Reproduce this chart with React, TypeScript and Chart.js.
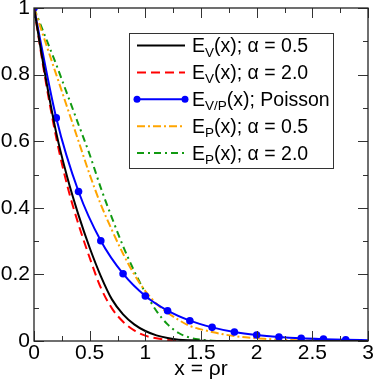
import React, { useEffect, useRef } from 'react';
import { Chart, registerables } from 'chart.js';

Chart.register(...registerables);

const FONT = '"Liberation Sans", Arial, Helvetica, sans-serif';

// Shared x grid for the continuous curves (x = ρr)
const xGrid = [
  0, 0.1, 0.2, 0.3, 0.4, 0.5, 0.6, 0.7, 0.8, 0.9,
  1.0, 1.1, 1.2, 1.3, 1.4, 1.5, 1.6, 1.7, 1.8, 1.9,
  2.0, 2.1, 2.2, 2.3, 2.4, 2.5, 2.6, 2.7, 2.8, 2.9, 3.0,
];

// E_V(x); α = 0.5  (black solid)
const evAlpha05 = [
  1.0, 0.80, 0.625, 0.49, 0.378, 0.28, 0.195, 0.125, 0.08, 0.05,
  0.03, 0.017, 0.009, 0.004, 0.002, 0.001, 0, 0, 0, 0,
  0, 0, 0, 0, 0, 0, 0, 0, 0, 0, 0,
];

// E_V(x); α = 2.0  (red dashed)
const evAlpha20 = [
  1.0, 0.79, 0.61, 0.465, 0.35, 0.25, 0.16, 0.098, 0.058, 0.032,
  0.016, 0.008, 0.003, 0.001, 0, 0, 0, 0, 0, 0,
  0, 0, 0, 0, 0, 0, 0, 0, 0, 0, 0,
];

// E_P(x); α = 0.5  (orange dash-dot)
const epAlpha05 = [
  1.0, 0.90, 0.80, 0.70, 0.60, 0.50, 0.41, 0.333, 0.262, 0.2,
  0.15, 0.112, 0.085, 0.063, 0.045, 0.035, 0.027, 0.02, 0.015, 0.011,
  0.008, 0.006, 0.004, 0.003, 0.002, 0.001, 0.0005, 0, 0, 0, 0,
];

// E_P(x); α = 2.0  (green dash-dot)
const epAlpha20 = [
  1.0, 0.915, 0.83, 0.74, 0.65, 0.56, 0.46, 0.37, 0.285, 0.21,
  0.145, 0.09, 0.05, 0.024, 0.01, 0.004, 0.001, 0, 0, 0,
  0, 0, 0, 0, 0, 0, 0, 0, 0, 0, 0,
];

// E_V/P(x); Poisson  (blue with markers)
const poissonX = [0, 0.2, 0.4, 0.6, 0.8, 1.0, 1.2, 1.4, 1.6, 1.8, 2.0, 2.2, 2.4, 2.6, 2.8, 3.0];
const poissonY = [1.0, 0.67, 0.449, 0.301, 0.202, 0.135, 0.091, 0.061, 0.041, 0.027, 0.018, 0.012, 0.008, 0.0055, 0.0037, 0.0025];

const xTicks = [0, 0.5, 1, 1.5, 2, 2.5, 3];
const yTicks = [0, 0.2, 0.4, 0.6, 0.8, 1];

const legendEntries = [
  { base: 'E', sub: 'V', rest: '(x); \u03B1 = 0.5' },
  { base: 'E', sub: 'V', rest: '(x); \u03B1 = 2.0' },
  { base: 'E', sub: 'V/P', rest: '(x); Poisson' },
  { base: 'E', sub: 'P', rest: '(x); \u03B1 = 0.5' },
  { base: 'E', sub: 'P', rest: '(x); \u03B1 = 2.0' },
];

const COLORS = ['#000000', '#ff0000', '#0000ff', '#ffa500', '#119a11'];
const DASHES: number[][] = [[], [9, 5], [], [8, 3, 2, 3], [7, 4, 2, 4]];

const zip = (xs: number[], ys: number[]) => xs.map((x, i) => ({ x, y: ys[i] }));
const fmt = (v: any) => String(Number(v));

const frameTicksPlugin = {
  id: 'frameTicks',
  afterDatasetsDraw(chart: any) {
    const { ctx, chartArea } = chart;
    const { left, right, top, bottom } = chartArea;
    const xs = chart.scales.x;
    const ys = chart.scales.y;
    ctx.save();
    ctx.strokeStyle = '#333';
    ctx.lineWidth = 1;
    for (let i = 0; i <= 12; i++) {
      const v = i * 0.25;
      const px = Math.round(xs.getPixelForValue(v)) + 0.5;
      const len = i % 2 === 0 ? 10 : 5;
      ctx.beginPath();
      ctx.moveTo(px, bottom);
      ctx.lineTo(px, bottom - len);
      ctx.moveTo(px, top);
      ctx.lineTo(px, top + len);
      ctx.stroke();
    }
    for (let i = 0; i <= 10; i++) {
      const v = i * 0.1;
      const py = Math.round(ys.getPixelForValue(v)) + 0.5;
      const len = i % 2 === 0 ? 10 : 5;
      ctx.beginPath();
      ctx.moveTo(left, py);
      ctx.lineTo(left + len, py);
      ctx.moveTo(right, py);
      ctx.lineTo(right - len, py);
      ctx.stroke();
    }
    ctx.strokeStyle = '#222';
    ctx.lineWidth = 1.3;
    ctx.strokeRect(left, top, right - left, bottom - top);
    ctx.restore();
  },
};

const legendPlugin = {
  id: 'graceLegend',
  afterDraw(chart: any) {
    const { ctx, chartArea } = chart;
    const bx = chartArea.left + 95;
    const by = chartArea.top + 25;
    const bw = 204;
    const bh = 135;
    ctx.save();
    ctx.fillStyle = '#fff';
    ctx.fillRect(bx, by, bw, bh);
    ctx.strokeStyle = '#333';
    ctx.lineWidth = 1;
    ctx.strokeRect(Math.round(bx) + 0.5, Math.round(by) + 0.5, bw, bh);
    legendEntries.forEach((e, i) => {
      const cy = by + 12.5 + i * 26.9;
      const x0 = bx + 8;
      const x1 = bx + 56;
      ctx.strokeStyle = COLORS[i];
      ctx.lineWidth = 2;
      ctx.setLineDash(DASHES[i]);
      ctx.beginPath();
      ctx.moveTo(x0, cy);
      ctx.lineTo(x1, cy);
      ctx.stroke();
      ctx.setLineDash([]);
      if (i === 2) {
        ctx.fillStyle = COLORS[i];
        [x0, x1].forEach((px) => {
          ctx.beginPath();
          ctx.arc(px, cy, 3.5, 0, Math.PI * 2);
          ctx.fill();
        });
      }
      ctx.fillStyle = '#000';
      ctx.textBaseline = 'alphabetic';
      ctx.textAlign = 'left';
      let tx = bx + 63;
      const base = cy + 6.5;
      ctx.font = `19.5px ${FONT}`;
      ctx.fillText(e.base, tx, base);
      tx += ctx.measureText(e.base).width;
      ctx.font = `13.5px ${FONT}`;
      ctx.fillText(e.sub, tx, base + 4.5);
      tx += ctx.measureText(e.sub).width;
      ctx.font = `19.5px ${FONT}`;
      ctx.fillText(e.rest, tx, base);
    });
    ctx.restore();
  },
};

export default function App() {
  const canvasRef = useRef<HTMLCanvasElement>(null);

  useEffect(() => {
    document.body.style.margin = '0';
    const canvas = canvasRef.current;
    if (!canvas) return;
    const mk = (label: string, ys: number[], i: number) => ({
      label,
      data: zip(xGrid, ys),
      borderColor: COLORS[i],
      backgroundColor: COLORS[i],
      borderWidth: 2,
      borderDash: DASHES[i],
      pointRadius: 0,
      fill: false,
      cubicInterpolationMode: 'monotone' as const,
    });
    const chart = new Chart(canvas, {
      type: 'line',
      data: {
        datasets: [
          mk('E_V(x); α = 0.5', evAlpha05, 0),
          mk('E_V(x); α = 2.0', evAlpha20, 1),
          {
            label: 'E_V/P(x); Poisson',
            data: zip(poissonX, poissonY),
            borderColor: COLORS[2],
            backgroundColor: COLORS[2],
            borderWidth: 2,
            pointRadius: poissonX.map((x) => (x >= 3 ? 0 : 3.8)),
            pointBorderWidth: 0,
            fill: false,
            cubicInterpolationMode: 'monotone' as const,
          },
          mk('E_P(x); α = 0.5', epAlpha05, 3),
          mk('E_P(x); α = 2.0', epAlpha20, 4),
        ],
      },
      options: {
        animation: false,
        responsive: true,
        maintainAspectRatio: false,
        layout: { padding: { top: 8, right: 6, left: 0, bottom: 0 } },
        plugins: {
          legend: { display: false },
          tooltip: { enabled: false },
        },
        scales: {
          x: {
            type: 'linear',
            min: 0,
            max: 3,
            afterBuildTicks: (s: any) => {
              s.ticks = xTicks.map((v) => ({ value: v }));
            },
            afterFit: (s: any) => {
              s.height = 44;
              s.paddingLeft = 0;
              s.paddingRight = 0;
            },
            grid: { display: false, drawTicks: false },
            border: { display: false },
            ticks: {
              padding: 0,
              color: '#000',
              maxRotation: 0,
              autoSkip: false,
              callback: fmt,
              font: { family: FONT, size: 21 },
            },
            title: {
              display: true,
              text: 'x = ρr',
              color: '#000',
              font: { family: FONT, size: 21 },
              padding: { top: 0, bottom: 3 },
            },
          },
          y: {
            type: 'linear',
            min: 0,
            max: 1,
            afterBuildTicks: (s: any) => {
              s.ticks = yTicks.map((v) => ({ value: v }));
            },
            afterFit: (s: any) => {
              s.width = 34;
              s.paddingTop = 0;
              s.paddingBottom = 0;
            },
            grid: { display: false, drawTicks: false },
            border: { display: false },
            ticks: {
              padding: 4,
              color: '#000',
              autoSkip: false,
              callback: fmt,
              font: { family: FONT, size: 21 },
            },
          },
        },
      },
      plugins: [frameTicksPlugin, legendPlugin],
    });
    return () => chart.destroy();
  }, []);

  return (
    <div style={{ position: 'relative', width: 374, height: 385 }}>
      <canvas ref={canvasRef} />
    </div>
  );
}
